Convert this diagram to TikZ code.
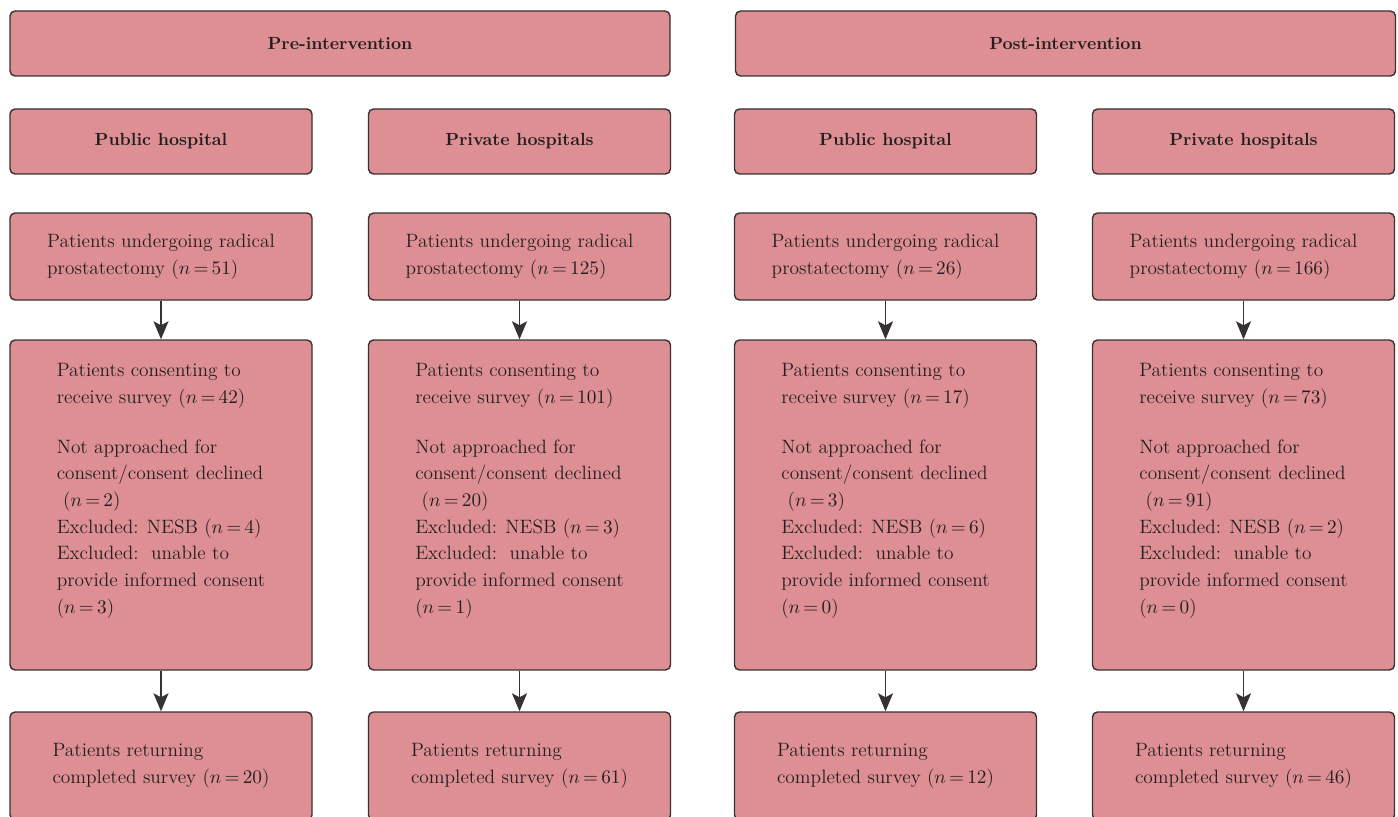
\documentclass[tikz,border=0pt]{standalone}
\usetikzlibrary{arrows.meta}

\definecolor{boxfill}{RGB}{221,143,147}
\definecolor{boxline}{RGB}{55,50,50}
\definecolor{inkcol}{RGB}{35,31,32}

\begin{document}
\begin{tikzpicture}[
    flowbox/.style ={rectangle, draw=boxline, line width=0.8pt, fill=boxfill,
                     rounded corners=1mm, text=inkcol, align=left,
                     font=\fontsize{11}{15.2}\selectfont, inner sep=0pt},
    phasebox/.style={flowbox, minimum width=13.2cm, minimum height=1.3cm,
                     font=\fontsize{10}{12}\selectfont\bfseries},
    sitebox/.style ={flowbox, minimum width=6.04cm, minimum height=1.3cm,
                     font=\fontsize{10}{12}\selectfont\bfseries},
    cohortbox/.style={flowbox, minimum width=6.04cm, minimum height=1.74cm},
    consentbox/.style={flowbox, minimum width=6.04cm, minimum height=6.6cm},
    returnbox/.style={flowbox, minimum width=6.04cm, minimum height=2.16cm},
    flowarrow/.style={draw=boxline, line width=0.8pt,
                     -{Stealth[length=3.6mm, width=3mm, inset=0.8mm]}}]
   \useasboundingbox (0,0) rectangle (27.96,-16.34);
   \clip (0,0) rectangle (27.96,-16.34);
   % phases
   \node[phasebox] (pre)  at (6.80,-0.87)  {Pre-intervention};
   \node[phasebox] (post) at (21.31,-0.87) {Post-intervention};
   % sites
   \node[sitebox] (sA) at (3.22,-2.83)  {Public hospital};
   \node[sitebox] (sB) at (10.39,-2.83) {Private hospitals};
   \node[sitebox] (sC) at (17.71,-2.83) {Public hospital};
   \node[sitebox] (sD) at (24.87,-2.83) {Private hospitals};
   % undergoing surgery
   \node[cohortbox] (cA) at (3.22,-5.13)
      {Patients undergoing radical\\prostatectomy ($n\,{=}\,51$)};
   \node[cohortbox] (cB) at (10.39,-5.13)
      {Patients undergoing radical\\prostatectomy ($n\,{=}\,125$)};
   \node[cohortbox] (cC) at (17.71,-5.13)
      {Patients undergoing radical\\prostatectomy ($n\,{=}\,26$)};
   \node[cohortbox] (cD) at (24.87,-5.13)
      {Patients undergoing radical\\prostatectomy ($n\,{=}\,166$)};
   % consent
   \node[consentbox] (kA) at (3.22,-10.10)
      {Patients consenting to\\receive survey ($n\,{=}\,42$)\\[13pt]
       Not approached for\\consent/consent declined\\\ ($n\,{=}\,2$)\\
       Excluded: NESB ($n\,{=}\,4$)\\Excluded:\ \ unable to\\
       provide informed consent\\($n\,{=}\,3$)\\[3.6pt]\mbox{}};
   \node[consentbox] (kB) at (10.39,-10.10)
      {Patients consenting to\\receive survey ($n\,{=}\,101$)\\[13pt]
       Not approached for\\consent/consent declined\\\ ($n\,{=}\,20$)\\
       Excluded: NESB ($n\,{=}\,3$)\\Excluded:\ \ unable to\\
       provide informed consent\\($n\,{=}\,1$)\\[3.6pt]\mbox{}};
   \node[consentbox] (kC) at (17.71,-10.10)
      {Patients consenting to\\receive survey ($n\,{=}\,17$)\\[13pt]
       Not approached for\\consent/consent declined\\\ ($n\,{=}\,3$)\\
       Excluded: NESB ($n\,{=}\,6$)\\Excluded:\ \ unable to\\
       provide informed consent\\($n\,{=}\,0$)\\[3.6pt]\mbox{}};
   \node[consentbox] (kD) at (24.87,-10.10)
      {Patients consenting to\\receive survey ($n\,{=}\,73$)\\[13pt]
       Not approached for\\consent/consent declined\\\ ($n\,{=}\,91$)\\
       Excluded: NESB ($n\,{=}\,2$)\\Excluded:\ \ unable to\\
       provide informed consent\\($n\,{=}\,0$)\\[3.6pt]\mbox{}};
   % returned
   \node[returnbox] (rA) at (3.22,-15.32)
      {Patients returning\\completed survey ($n\,{=}\,20$)};
   \node[returnbox] (rB) at (10.39,-15.32)
      {Patients returning\\completed survey ($n\,{=}\,61$)};
   \node[returnbox] (rC) at (17.71,-15.32)
      {Patients returning\\completed survey ($n\,{=}\,12$)};
   \node[returnbox] (rD) at (24.87,-15.32)
      {Patients returning\\completed survey ($n\,{=}\,46$)};
   % arrows
   \draw[flowarrow] (cA) to (kA);
   \draw[flowarrow] (cB) to (kB);
   \draw[flowarrow] (cC) to (kC);
   \draw[flowarrow] (cD) to (kD);
   \draw[flowarrow] (kA) to (rA);
   \draw[flowarrow] (kB) to (rB);
   \draw[flowarrow] (kC) to (rC);
   \draw[flowarrow] (kD) to (rD);
 \end{tikzpicture}
\end{document}
